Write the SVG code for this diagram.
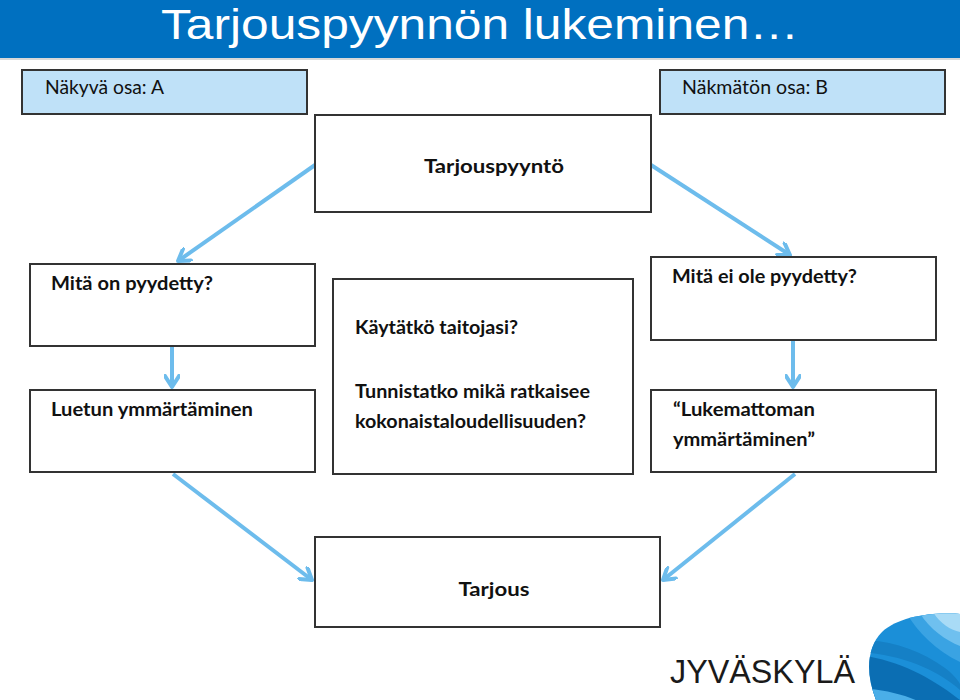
<svg xmlns="http://www.w3.org/2000/svg" width="960" height="700" viewBox="0 0 960 700">
<style>
.box{fill:#fff;stroke:#333;stroke-width:2}
.lbl{fill:#bfe1f8;stroke:#333;stroke-width:2}
.t{font-family:Lato,"Open Sans","Liberation Sans",sans-serif;font-weight:700;font-size:18.5px;fill:#111}
.n{font-family:Lato,"Open Sans","Liberation Sans",sans-serif;font-weight:400;font-size:18.5px;fill:#111}
.c{fill:none;stroke:#6dbcec;stroke-width:4;marker-end:url(#ah)}
</style>
<defs>
<marker id="ah" viewBox="0 0 16 16" refX="13" refY="8" markerWidth="16" markerHeight="16" markerUnits="userSpaceOnUse" orient="auto">
<path d="M2,1 L13,8 L2,15" fill="none" stroke="#6dbcec" stroke-width="4" stroke-linecap="round" stroke-linejoin="round"/>
</marker>
<clipPath id="blob">
<path d="M960,614 C930,612 898,617 882,632 C866,648 866,675 876,700 L960,700 Z"/>
</clipPath>
</defs>
<rect width="960" height="700" fill="#fff"/>
<g id="header">
<rect x="0" y="0" width="960" height="58" fill="#0070c0"/>
<rect x="0" y="58" width="960" height="2" fill="#d8d8d8"/>
<text x="161" y="39" font-family="'Liberation Sans Narrow','Liberation Sans',sans-serif" font-size="42" fill="#fff" textLength="638" lengthAdjust="spacingAndGlyphs">Tarjouspyynnön lukeminen…</text>
</g>
<g id="label-a">
<rect class="lbl" x="22" y="70" width="285" height="44"/>
<text class="n" x="45" y="94" textLength="119" lengthAdjust="spacingAndGlyphs">Näkyvä osa: A</text>
</g>
<g id="label-b">
<rect class="lbl" x="660" y="70" width="285" height="44"/>
<text class="n" x="682" y="94" textLength="146" lengthAdjust="spacingAndGlyphs">Näkmätön osa: B</text>
</g>
<g id="connectors">
<line class="c" x1="315" y1="165" x2="178" y2="261"/>
<line class="c" x1="651" y1="165" x2="790" y2="255"/>
<line class="c" x1="172" y1="347" x2="172" y2="387"/>
<line class="c" x1="793" y1="341" x2="793" y2="387"/>
<line class="c" x1="173" y1="474" x2="312" y2="580"/>
<line class="c" x1="795" y1="474" x2="663" y2="580"/>
</g>
<g id="tarjouspyynto">
<rect class="box" x="315" y="115" width="336" height="97"/>
<text class="t" x="494" y="173" font-size="21" text-anchor="middle" textLength="140" lengthAdjust="spacingAndGlyphs">Tarjouspyyntö</text>
</g>
<g id="mita-on">
<rect class="box" x="30" y="264" width="285" height="82"/>
<text class="t" x="51" y="290" textLength="162" lengthAdjust="spacingAndGlyphs">Mitä on pyydetty?</text>
</g>
<g id="luetun">
<rect class="box" x="30" y="390" width="285" height="82"/>
<text class="t" x="51" y="416" textLength="202" lengthAdjust="spacingAndGlyphs">Luetun ymmärtäminen</text>
</g>
<g id="keskimmainen">
<rect class="box" x="333" y="279" width="300" height="195"/>
<text class="t" x="355" y="334" textLength="163" lengthAdjust="spacingAndGlyphs">Käytätkö taitojasi?</text>
<text class="t" x="355" y="398" textLength="235" lengthAdjust="spacingAndGlyphs">Tunnistatko mikä ratkaisee</text>
<text class="t" x="355" y="428" textLength="231" lengthAdjust="spacingAndGlyphs">kokonaistaloudellisuuden?</text>
</g>
<g id="mita-ei">
<rect class="box" x="651" y="257" width="285" height="83"/>
<text class="t" x="672" y="283" textLength="185" lengthAdjust="spacingAndGlyphs">Mitä ei ole pyydetty?</text>
</g>
<g id="lukemattoman">
<rect class="box" x="651" y="390" width="285" height="82"/>
<text class="t" x="673" y="416" textLength="142" lengthAdjust="spacingAndGlyphs">“Lukemattoman</text>
<text class="t" x="673" y="446" textLength="142" lengthAdjust="spacingAndGlyphs">ymmärtäminen”</text>
</g>
<g id="tarjous">
<rect class="box" x="315" y="537" width="345" height="90"/>
<text class="t" x="494" y="596" font-size="21" text-anchor="middle" textLength="71" lengthAdjust="spacingAndGlyphs">Tarjous</text>
</g>
<g id="logo">
<text x="670" y="683" font-family="'Liberation Sans','DejaVu Sans',sans-serif" font-size="34" fill="#1a1a1a" textLength="185" lengthAdjust="spacingAndGlyphs">JYVÄSKYLÄ</text>
<g clip-path="url(#blob)">
<rect x="860" y="610" width="100" height="90" fill="#1b8fd8"/>
<path d="M860,655 C900,660 935,680 960,700 L960,712 L860,712 Z" fill="#0b6eb3"/>
<path d="M860,688 C890,690 920,698 935,712 L860,712 Z" fill="#4aaee8"/>
<path d="M905,610 C915,630 935,650 960,662 L960,610 Z" fill="#3aa3e3"/>
<path d="M918,610 C928,628 945,640 960,646 L960,610 Z" fill="#6fc0ef"/>
<path d="M932,610 C938,622 950,630 960,632 L960,610 Z" fill="#a9dbf6"/>
<path d="M860,640 C890,640 920,650 945,668 C952,673 958,680 960,684 L960,690 C940,672 905,655 860,652 Z" fill="#1580c6"/>
</g>
</g>
</svg>
